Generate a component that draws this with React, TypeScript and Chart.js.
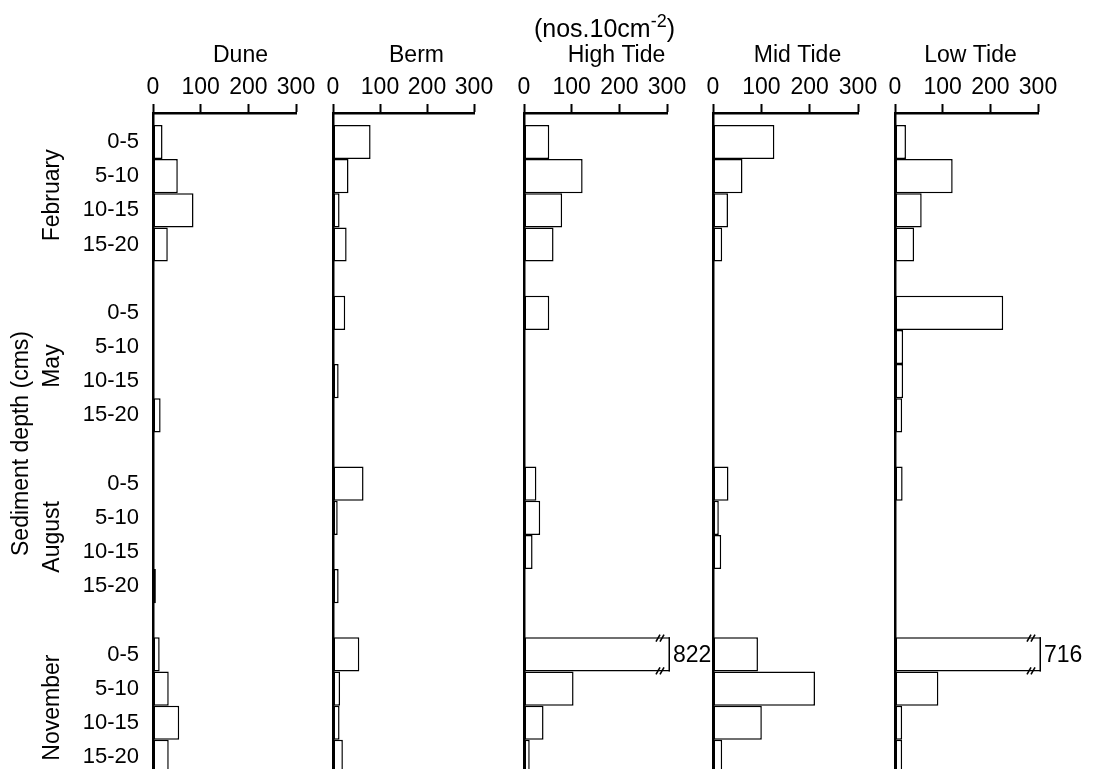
import { useEffect, useRef } from 'react';
import { Chart, registerables } from 'chart.js';

Chart.register(...registerables);

const FONT = '"Liberation Sans", Arial, Helvetica, sans-serif';
Chart.defaults.font.family = FONT;
Chart.defaults.color = '#000';

// ---- data -------------------------------------------------------------
const sites = ['Dune', 'Berm', 'High Tide', 'Mid Tide', 'Low Tide'];
const months = ['February', 'May', 'August', 'November'];
const depths = ['0-5', '5-10', '10-15', '15-20'];
const xTicks = [0, 100, 200, 300];
const unitText = '(nos.10cm';
const unitExponent = '-2';
const depthAxisTitle = 'Sediment depth (cms)';

// abundance (nos.10cm-2) per depth layer; months in order Feb, May, Aug, Nov
const dune = [20, 52, 85, 31, 0, 0, 0, 16, 0, 0, 0, 6, 14, 33, 55, 33];
const berm = [80, 33, 14, 29, 26, 0, 12, 0, 65, 10, 0, 12, 56, 15, 14, 21];
const highTide = [53, 123, 80, 62, 53, 0, 0, 0, 26, 34, 18, 0, 822, 104, 41, 12];
const midTide = [127, 61, 31, 19, 0, 0, 0, 0, 32, 12, 17, 0, 93, 211, 101, 19];
const lowTide = [23, 121, 56, 40, 227, 17, 17, 15, 16, 0, 0, 0, 716, 91, 15, 15];

const siteValues = [dune, berm, highTide, midTide, lowTide];

// ---- layout -----------------------------------------------------------
const AXIS_MAX = 300;
const ROW_GAP = 1; // one empty row between months
const ROWS_PER_MONTH = depths.length + ROW_GAP;
const Y_MIN = -0.85;
const Y_MAX = months.length * ROWS_PER_MONTH - ROW_GAP - 0.5;

const PAGE_OFFSET = 8;
const CANVAS_H = 768;
const TOP_AXIS_H = 105;
const BOTTOM_PAD = 2;
const RIGHT_PAD = 55;
const BAR_BORDER = 1.5;
const BAR_OVERHANG = 3;

const panelZero = [153, 333, 524, 713, 895];
const panelWidth = [143, 141, 143, 145, 143];
const titleShift = [16, 13, 21, 12, 4];
const FIRST_LEFT = 145;
const OTHER_LEFT = 12;

const rowIndex = months.flatMap((_, m) => depths.map((_, d) => m * ROWS_PER_MONTH + d));
const rowLabel = (v: number) => {
  const d = v % ROWS_PER_MONTH;
  return d < depths.length ? depths[d] : '';
};

const decorPlugin = {
  id: 'decor',
  afterDatasetsDraw(chart: any, _args: any, opts: any) {
    const { ctx, chartArea } = chart;
    const meta = chart.getDatasetMeta(0);
    const values: number[] = opts.values;
    ctx.save();
    meta.data.forEach((bar: any, i: number) => {
      const v = values[i];
      if (v <= AXIS_MAX) return;
      const { y, height } = bar.getProps(['y', 'height'], true);
      const top = y - height / 2;
      const bottom = y + height / 2;
      const end = chartArea.right + BAR_OVERHANG;
      ctx.strokeStyle = '#000';
      ctx.lineWidth = BAR_BORDER;
      ctx.beginPath();
      ctx.moveTo(end - BAR_BORDER / 2, top);
      ctx.lineTo(end - BAR_BORDER / 2, bottom);
      ctx.stroke();
      // axis-break marks on both long edges
      ctx.lineWidth = 1.6;
      const bx = end - 12;
      [top + 0.7, bottom - 0.7].forEach((ey) => {
        [0, 4].forEach((off) => {
          ctx.beginPath();
          ctx.moveTo(bx + off - 2, ey + 3.5);
          ctx.lineTo(bx + off + 2, ey - 3.5);
          ctx.stroke();
        });
      });
      ctx.fillStyle = '#000';
      ctx.font = `23px ${FONT}`;
      ctx.textAlign = 'left';
      ctx.textBaseline = 'middle';
      ctx.fillText(String(v), end + 3, y + 1);
    });
    ctx.restore();
  },
  afterDraw(chart: any, _args: any, opts: any) {
    const { ctx, chartArea } = chart;
    const cx = (chartArea.left + chartArea.right) / 2;
    ctx.save();
    ctx.fillStyle = '#000';
    ctx.textBaseline = 'alphabetic';
    ctx.font = `23px ${FONT}`;
    ctx.textAlign = 'center';
    ctx.fillText(opts.title, cx + opts.titleShift, 62 - PAGE_OFFSET);

    if (opts.showUnit) {
      ctx.font = `25px ${FONT}`;
      const w1 = ctx.measureText(unitText).width;
      const w3 = ctx.measureText(')').width;
      ctx.font = `18px ${FONT}`;
      const w2 = ctx.measureText(unitExponent).width;
      const total = w1 + w2 + w3;
      let x = cx + 9 - total / 2;
      const base = 37 - PAGE_OFFSET;
      ctx.textAlign = 'left';
      ctx.font = `25px ${FONT}`;
      ctx.fillText(unitText, x, base);
      x += w1;
      ctx.font = `18px ${FONT}`;
      ctx.fillText(unitExponent, x, base - 10);
      x += w2;
      ctx.font = `25px ${FONT}`;
      ctx.fillText(')', x, base);
    }

    if (opts.showMonths) {
      const yScale = chart.scales.y;
      ctx.font = `23px ${FONT}`;
      ctx.textAlign = 'center';
      ctx.textBaseline = 'middle';
      months.forEach((name, m) => {
        const yc = yScale.getPixelForValue(m * ROWS_PER_MONTH + (depths.length - 1) / 2);
        ctx.save();
        ctx.translate(53 - PAGE_OFFSET, yc + 2);
        ctx.rotate(-Math.PI / 2);
        ctx.fillText(name, 0, 0);
        ctx.restore();
      });
    }
    ctx.restore();
  },
};

function Panel({ index }: { index: number }) {
  const ref = useRef<HTMLCanvasElement>(null);
  const first = index === 0;
  const leftW = first ? FIRST_LEFT : OTHER_LEFT;
  const canvasLeft = panelZero[index] - leftW - PAGE_OFFSET;
  const canvasW = leftW + panelWidth[index] + RIGHT_PAD;

  useEffect(() => {
    const values = siteValues[index];
    const chart = new Chart(ref.current as HTMLCanvasElement, {
      type: 'bar',
      data: {
        datasets: [
          {
            data: values.map((v, i) => ({ x: v, y: rowIndex[i] })),
            backgroundColor: '#fff',
            borderColor: '#000',
            borderWidth: BAR_BORDER,
            borderSkipped: false,
            barPercentage: 1,
            categoryPercentage: 1,
            inflateAmount: 0,
            clip: { left: 0, top: 0, right: BAR_OVERHANG, bottom: 0 },
          } as any,
        ],
      },
      options: {
        indexAxis: 'y',
        responsive: false,
        animation: false,
        events: [],
        layout: { padding: { top: 0, left: 0, right: RIGHT_PAD, bottom: BOTTOM_PAD } },
        plugins: {
          legend: { display: false },
          tooltip: { enabled: false },
          decor: {
            values,
            title: sites[index],
            titleShift: titleShift[index],
            showUnit: index === 2,
            showMonths: first,
          },
        } as any,
        scales: {
          x: {
            type: 'linear',
            position: 'top',
            min: 0,
            max: AXIS_MAX,
            offset: false,
            afterBuildTicks: (s: any) => {
              s.ticks = xTicks.map((v) => ({ value: v }));
            },
            afterFit: (s: any) => {
              s.height = TOP_AXIS_H;
              s.paddingLeft = 0;
              s.paddingRight = 0;
            },
            ticks: { font: { size: 23 }, color: '#000', padding: 3, maxRotation: 0, autoSkip: false },
            grid: { offset: false, drawOnChartArea: false, drawTicks: true, tickLength: 9, tickWidth: 2, tickColor: '#000' },
            border: { display: true, color: '#000', width: 2.5 },
          },
          y: {
            type: 'linear',
            reverse: true,
            min: Y_MIN,
            max: Y_MAX,
            offset: false,
            afterBuildTicks: (s: any) => {
              s.ticks = rowIndex.map((v) => ({ value: v }));
            },
            afterFit: (s: any) => {
              s.width = leftW;
              s.paddingTop = 0;
              s.paddingBottom = 0;
            },
            ticks: {
              display: first,
              autoSkip: false,
              padding: 14,
              font: { size: 22 },
              color: '#000',
              callback: (v: any) => rowLabel(Number(v)),
            },
            grid: { display: false, offset: false, drawTicks: false },
            border: { display: true, color: '#000', width: 2.5 },
            title: {
              display: first,
              text: depthAxisTitle,
              font: { size: 23 },
              color: '#000',
              padding: 0,
            },
          },
        },
      } as any,
      plugins: [decorPlugin],
    });
    return () => chart.destroy();
  }, [index]);

  return (
    <canvas
      ref={ref}
      width={canvasW}
      height={CANVAS_H}
      style={{ position: 'absolute', left: canvasLeft, top: 0, width: canvasW, height: CANVAS_H }}
    />
  );
}

export default function App() {
  return (
    <div style={{ position: 'relative', width: 1086, height: 761 }}>
      {sites.map((s, i) => (
        <Panel key={s} index={i} />
      ))}
    </div>
  );
}
